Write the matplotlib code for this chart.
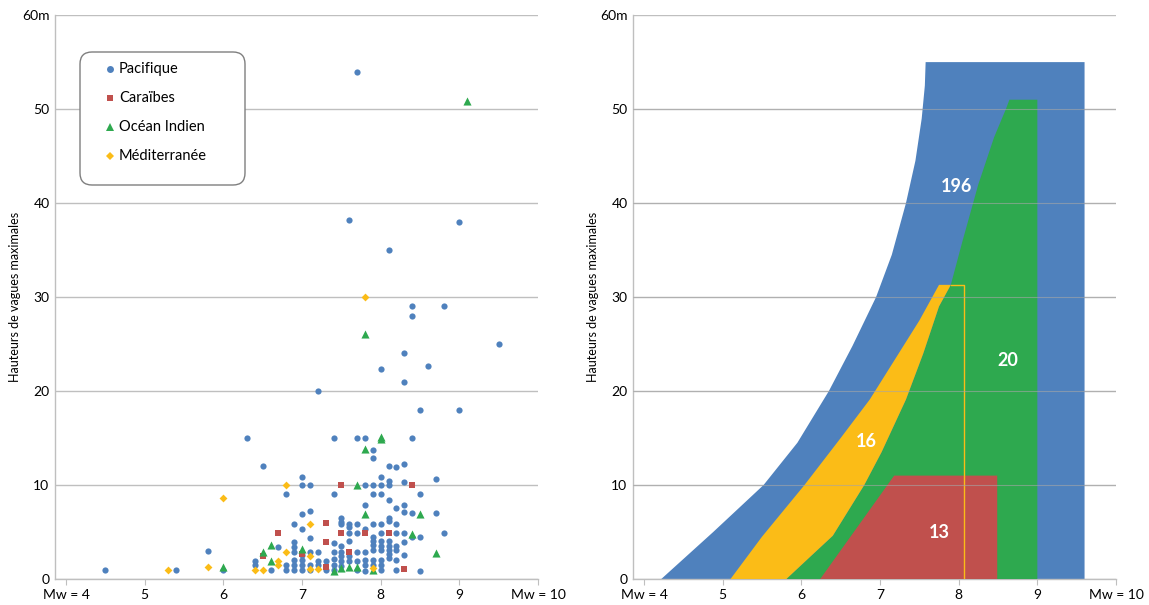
import matplotlib.pyplot as plt
from matplotlib.patches import Polygon, FancyBboxPatch
from matplotlib.lines import Line2D

plt.rcParams['font.family'] = ['Lato', 'DejaVu Sans']

# --- scatter data (Mw, max wave height in m) ---
pac_x = [7.7, 7.6, 9.0, 8.1, 8.4, 8.8, 8.4, 9.5, 8.3, 8.6, 8.0, 8.3, 7.2, 8.5, 9.0,
         6.3, 7.4, 7.7, 7.8, 8.4, 7.9, 7.9, 6.5, 8.1, 8.2, 8.3,
         8.7, 7.0, 8.0, 8.1, 8.3,
         7.0, 7.1, 7.8, 7.9, 8.0, 8.1,
         6.8, 7.4, 7.9, 8.0, 8.5, 8.1,
         7.8, 8.3, 8.2, 7.1, 8.3, 7.0, 8.4, 8.7,
         7.5, 8.1, 8.1, 7.5, 7.5, 7.6, 7.6, 7.7, 7.9, 8.0, 8.2, 6.9, 7.0, 7.8,
         7.6, 7.7, 8.0, 8.2, 8.3, 8.8, 8.4, 8.5,
         7.1, 7.9, 7.9, 7.9, 7.9, 8.0, 8.0, 8.0, 8.1, 8.1, 8.1, 8.1, 8.1, 8.2, 8.2, 8.3, 8.3,
         7.6, 7.4, 7.4, 7.4, 7.5, 7.5, 7.5, 7.5, 7.5, 7.6, 7.7, 7.8, 7.8, 7.8, 7.9, 7.9, 8.0, 8.0,
         8.2, 8.2, 8.0, 7.8, 8.5,
         6.9, 6.9, 6.9, 6.9, 6.9, 6.9,
         7.0, 7.0, 7.0, 7.0,
         7.1, 7.1, 7.1,
         7.2, 7.2, 7.2,
         7.3, 7.3,
         7.4, 7.4,
         6.7, 6.4, 6.4, 6.6, 6.8, 6.8, 6.0, 5.8, 4.5, 5.4, 7.7, 7.6, 7.7]
pac_y = [54, 38.2, 38, 35, 29, 29, 28, 25, 24, 22.7, 22.3, 21, 20, 18, 18,
         15, 15, 15, 15, 15, 13.7, 12.9, 12, 12, 11.9, 12.2,
         10.6, 10.9, 10.9, 10.4, 10.3,
         10, 10, 10, 10, 10, 10,
         9, 9, 9, 9, 9, 8.4,
         7.9, 7.9, 7.6, 7.2, 7.1, 6.9, 7.0, 7.0,
         6.5, 6.5, 6.2, 6.1, 5.8, 5.9, 5.5, 5.9, 5.9, 5.9, 5.9, 5.9, 5.3, 5.3,
         4.9, 4.9, 4.9, 4.9, 4.9, 4.9, 4.5, 4.5,
         4.4, 4.5, 4.0, 3.6, 3.1, 4.0, 3.5, 3.1, 4.0, 3.5, 3.1, 2.7, 2.2, 3.5, 3.1, 3.9, 2.5,
         4.0, 3.8, 2.9, 2.1, 3.5, 2.9, 2.4, 1.9, 1.4, 2.4, 2.9, 2.9, 2.0, 1.5, 2.0, 1.5, 2.0, 1.5,
         2.0, 1.0, 1.0, 0.9, 0.8,
         3.9, 3.4, 2.9, 2.0, 1.5, 1.0,
         2.5, 2.0, 1.5, 1.0,
         2.9, 1.5, 1.0,
         2.9, 1.9, 1.5,
         1.9, 1.0,
         1.5, 1.0,
         3.4, 1.9, 1.5, 1.0, 1.5, 1.0, 1.0, 3.0, 1.0, 1.0, 1.0, 1.9, 1.9]

car_x = [6.7, 7.3, 7.3, 6.5, 7.5, 8.4, 7.5, 7.8, 8.1, 7.6, 7.3, 8.3, 7.0]
car_y = [4.9, 6.0, 3.9, 2.4, 10, 10, 4.9, 4.9, 4.9, 2.9, 1.3, 1.1, 2.7]

ind_x = [9.1, 7.8, 8.0, 8.0, 7.8, 7.7, 7.8, 8.5, 8.4, 6.6, 6.5, 6.6, 7.0, 6.0,
         7.4, 7.5, 7.6, 7.7, 7.9, 8.7]
ind_y = [50.9, 26.1, 15.1, 14.9, 13.8, 10, 6.9, 6.9, 4.8, 3.6, 2.9, 1.9, 3.2, 1.3,
         0.8, 1.2, 1.3, 1.3, 1.0, 2.8]

med_x = [7.8, 6.0, 6.8, 7.1, 6.8, 6.7, 6.7, 7.1, 7.1, 7.2, 6.4, 6.5, 5.8, 5.3, 7.9]
med_y = [30, 8.6, 10, 5.9, 2.9, 1.9, 1.45, 2.4, 1.1, 1.1, 0.95, 0.95, 1.3, 1.0, 1.2]

# --- envelope shapes for the right panel ---
blue_left_x = [4.22, 4.55, 4.88, 5.2, 5.52, 5.95, 6.35, 6.65, 6.95, 7.15, 7.33,
               7.45, 7.53, 7.57, 7.58]
blue_left_y = [0, 2.5, 5, 7.5, 10, 14.5, 20, 24.8, 30, 34.5, 40,
               44.5, 49, 52.5, 55]
blue_right = 9.6
blue_top = 55

green_left_x = [5.81, 6.13, 6.4, 6.8, 7.02, 7.33, 7.55, 7.75, 7.9, 8.05, 8.25, 8.45, 8.6, 8.645]
green_left_y = [0, 2.5, 4.6, 10, 13.5, 19.1, 24, 29, 31.3, 36, 42, 47, 50, 51]
green_right = 9.0
green_top = 51

yellow_left_x = [5.1, 5.5, 6.04, 6.5, 6.87, 7.2, 7.5, 7.75]
yellow_left_y = [0, 4.5, 10, 15, 19.1, 23.5, 27.5, 31.3]
yellow_top = 31.3
yellow_outline_x = 8.07

red_x = [6.24, 7.18, 8.49, 8.49]
red_y = [0, 11, 11, 0]

counts = ['196', '20', '16', '13']
count_x = [7.97, 8.62, 6.82, 7.75]
count_y = [41.8, 23.3, 14.6, 4.9]

BLUE = '#4F81BD'
RED = '#C0504D'
GREEN = '#2EA94F'
YELLOW = '#FBBC17'
GRID = '#BFBFBF'


def style_axes(ax):
    ax.set_xlim(3.86, 10)
    ax.set_ylim(0, 60)
    ax.set_xticks(range(4, 11))
    ax.set_xticklabels(['Mw = 4', '5', '6', '7', '8', '9', 'Mw = 10'])
    ax.set_yticks(range(0, 61, 10))
    ax.set_yticklabels(['0', '10', '20', '30', '40', '50', '60m'])
    ax.yaxis.grid(True, color=GRID, linewidth=1)
    ax.set_axisbelow(True)
    for s in ['top', 'right']:
        ax.spines[s].set_visible(False)
    for s in ['left', 'bottom']:
        ax.spines[s].set_color(GRID)
        ax.spines[s].set_linewidth(1)
    ax.tick_params(axis='x', direction='out', length=4, color=GRID, labelsize=10, pad=3)
    ax.tick_params(axis='y', length=0, labelsize=10, pad=4)
    ax.set_ylabel('Hauteurs de vagues maximales', fontsize=9, labelpad=1)


fig = plt.figure(figsize=(11.49, 6.05), dpi=100)
ax1 = fig.add_axes([0.0479, 0.043, 0.4204, 0.932])
ax2 = fig.add_axes([0.5509, 0.043, 0.4204, 0.932])

# --- left: scatter ---
style_axes(ax1)
ax1.scatter(pac_x, pac_y, s=20, marker='o', color=BLUE, linewidths=0, zorder=3)
ax1.scatter(car_x, car_y, s=24, marker='s', color=RED, linewidths=0, zorder=4)
ax1.scatter(ind_x, ind_y, s=34, marker='^', color=GREEN, linewidths=0, zorder=4)
ax1.scatter(med_x, med_y, s=16, marker='D', color=YELLOW, linewidths=0, zorder=5)
ax1.axhline(60, color=GRID, linewidth=1.2, zorder=1)

box = FancyBboxPatch((80, 605 - 185), 165, 133, boxstyle='round,pad=0,rounding_size=12',
                     transform=None, facecolor='white', edgecolor='#7F7F7F', linewidth=1, zorder=6)
fig.patches.append(box)
leg_items = [('Pacifique', 'o', BLUE, 5), ('Caraïbes', 's', RED, 5),
             ('Océan Indien', '^', GREEN, 6), ('Méditerranée', 'D', YELLOW, 4)]
for i, (lab, m, c, ms) in enumerate(leg_items):
    yy = 1 - (69 + i * 29) / 605
    fig.add_artist(Line2D([110 / 1149], [yy], marker=m, color=c, markersize=ms,
                          linestyle='none', markeredgewidth=0, zorder=7))
    fig.text(119 / 1149, yy, lab, fontsize=10.5, va='center', ha='left', zorder=7)

# --- right: envelopes ---
style_axes(ax2)
blue_poly = list(zip(blue_left_x, blue_left_y)) + [(blue_right, blue_top), (blue_right, 0)]
ax2.add_patch(Polygon(blue_poly, closed=True, facecolor=BLUE, edgecolor='none', zorder=2))
green_poly = list(zip(green_left_x, green_left_y)) + [(green_right, green_top), (green_right, 0)]
ax2.add_patch(Polygon(green_poly, closed=True, facecolor=GREEN, edgecolor='none', zorder=3))
yr = [(x, y) for x, y in zip(green_left_x, green_left_y) if y <= yellow_top]
yellow_poly = list(zip(yellow_left_x, yellow_left_y)) + yr[::-1]
ax2.add_patch(Polygon(yellow_poly, closed=True, facecolor=YELLOW, edgecolor='none', zorder=4))
ax2.add_patch(Polygon(list(zip(red_x, red_y)), closed=True, facecolor=RED, edgecolor='none', zorder=5))
ax2.plot([yr[-1][0], yellow_outline_x, yellow_outline_x], [yellow_top, yellow_top, 0],
         color=YELLOW, linewidth=1, zorder=6)
ax2.axhline(60, color=GRID, linewidth=1.2, zorder=1)
for lab, x, y in zip(counts, count_x, count_y):
    ax2.text(x, y, lab, color='white', fontsize=13, fontweight='bold', ha='center', va='center', zorder=7)
# gridlines drawn over the areas, as in the source
for v in range(10, 60, 10):
    ax2.axhline(v, color='#A6A6A6', linewidth=0.8, alpha=0.6, zorder=6)

fig.savefig('out.png', dpi=100)
